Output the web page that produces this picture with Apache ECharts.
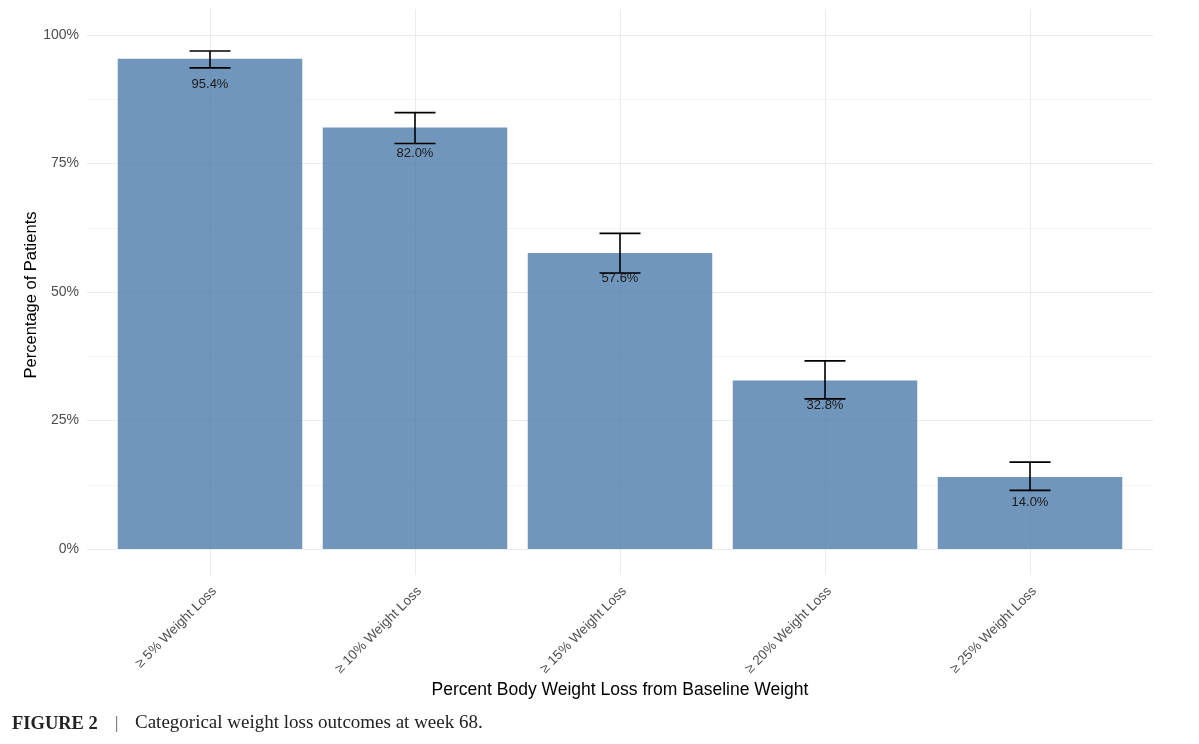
<!DOCTYPE html>
<html lang="en">
<head>
    <meta charset="UTF-8">
    <title>Categorical weight loss outcomes at week 68</title>
    <script src="https://cdn.jsdelivr.net/npm/echarts@6/dist/echarts.min.js"></script>
    <style>
        * { margin: 0; padding: 0; box-sizing: border-box; }
        body { background: #fff; }
        #chart { width: 1199px; height: 744px; }
    </style>
</head>
<body>
    <div id="chart"></div>

    <script>
        // data
        const categories = ['≥ 5% Weight Loss', '≥ 10% Weight Loss', '≥ 15% Weight Loss', '≥ 20% Weight Loss', '≥ 25% Weight Loss'];
        const percentages = [95.4, 82.0, 57.6, 32.8, 14.0];
        const ciLower = [93.6, 78.9, 53.7, 29.2, 11.4];
        const ciUpper = [96.9, 84.9, 61.4, 36.6, 16.9];
        const yTicks = [0, 25, 50, 75, 100];

        const axisGrey = '#4d4d4d';
        const gridGrey = '#ebebeb';
        const sans = 'Liberation Sans, Arial, sans-serif';
        const serif = 'Liberation Serif, serif';

        const chart = echarts.init(document.getElementById('chart'));

        const errorData = categories.map((c, i) => [i, ciLower[i], ciUpper[i]]);

        const option = {
            animation: false,
            textStyle: { fontFamily: sans },
            grid: [
                // bars
                { left: 107.5, right: 66.5, top: 35, bottom: 195 },
                // horizontal gridlines + y labels
                { left: 87, right: 46, top: 35, bottom: 195 },
                // vertical gridlines
                { left: 210, right: 169, top: 9, bottom: 169 },
                // rotated category labels (nudged a little right/down)
                { left: 214.5, right: 164.5, top: 9, bottom: 169 }
            ],
            xAxis: [
                {
                    gridIndex: 0, type: 'category', data: categories, boundaryGap: true,
                    axisLine: { show: false }, axisTick: { show: false }, axisLabel: { show: false },
                    splitLine: { show: false }
                },
                {
                    gridIndex: 1, type: 'value', min: 0, max: 1, show: true,
                    axisLine: { show: false }, axisTick: { show: false }, axisLabel: { show: false },
                    splitLine: { show: false },
                    name: 'Percent Body Weight Loss from Baseline Weight',
                    nameLocation: 'middle', nameGap: 132,
                    nameTextStyle: { fontSize: 17.5, color: '#000' }
                },
                {
                    gridIndex: 2, type: 'category', data: categories, boundaryGap: false,
                    axisLine: { show: false }, axisTick: { show: false }, axisLabel: { show: false },
                    splitLine: { show: true, lineStyle: { color: gridGrey, width: 1 } }
                },
                {
                    gridIndex: 3, type: 'category', data: categories, boundaryGap: false,
                    axisLine: { show: false }, axisTick: { show: false },
                    axisLabel: { rotate: 45, margin: 14, fontSize: 13.5, color: axisGrey, interval: 0 },
                    splitLine: { show: false }
                }
            ],
            yAxis: [
                { gridIndex: 0, type: 'value', min: 0, max: 100, show: false },
                {
                    gridIndex: 1, type: 'value', min: 0, max: 100, interval: 25,
                    axisLine: { show: false }, axisTick: { show: false },
                    axisLabel: {
                        margin: 8, fontSize: 14, color: axisGrey,
                        formatter: v => yTicks.includes(v) ? v + '%' : ''
                    },
                    splitLine: { show: true, lineStyle: { color: gridGrey, width: 1 } },
                    minorTick: { show: false, splitNumber: 2 },
                    minorSplitLine: { show: true, lineStyle: { color: '#f4f4f4', width: 1 } }
                },
                { gridIndex: 2, type: 'value', min: 0, max: 1, show: false },
                { gridIndex: 3, type: 'value', min: 0, max: 1, show: false }
            ],
            series: [
                {
                    type: 'bar',
                    xAxisIndex: 0, yAxisIndex: 0,
                    data: percentages,
                    barWidth: '90%',
                    itemStyle: { color: 'rgba(65, 115, 165, 0.75)' },
                    label: {
                        show: true, position: 'insideTop', distance: 19,
                        formatter: p => p.value.toFixed(1) + '%',
                        fontSize: 13, color: '#1a1a1a'
                    },
                    z: 2
                },
                {
                    type: 'custom',
                    xAxisIndex: 0, yAxisIndex: 0,
                    data: errorData,
                    z: 3,
                    renderItem: function (params, api) {
                        const x = api.value(0);
                        const lo = api.coord([x, api.value(1)]);
                        const hi = api.coord([x, api.value(2)]);
                        const half = api.size([1, 0])[0] * 0.1;
                        const style = { stroke: '#000', lineWidth: 1.6 };
                        return {
                            type: 'group',
                            children: [
                                { type: 'line', shape: { x1: lo[0], y1: lo[1], x2: hi[0], y2: hi[1] }, style: style },
                                { type: 'line', shape: { x1: lo[0] - half, y1: lo[1], x2: lo[0] + half, y2: lo[1] }, style: style },
                                { type: 'line', shape: { x1: hi[0] - half, y1: hi[1], x2: hi[0] + half, y2: hi[1] }, style: style }
                            ]
                        };
                    }
                }
            ],
            graphic: [
                {
                    // y axis title
                    type: 'text', x: 31, y: 295, rotation: Math.PI / 2,
                    style: {
                        text: 'Percentage of Patients', font: '16.5px ' + sans, fill: '#000',
                        align: 'center', verticalAlign: 'middle'
                    }
                },
                {
                    type: 'text', left: 12, top: 715,
                    style: { text: 'FIGURE 2', font: 'bold 18.5px ' + serif, fill: '#222' }
                },
                {
                    type: 'text', left: 115, top: 715,
                    style: { text: '|', font: '17px ' + serif, fill: '#555' }
                },
                {
                    type: 'text', left: 135, top: 714,
                    style: { text: 'Categorical weight loss outcomes at week 68.', font: '19px ' + serif, fill: '#222' }
                }
            ]
        };

        chart.setOption(option);
    </script>
</body>
</html>
